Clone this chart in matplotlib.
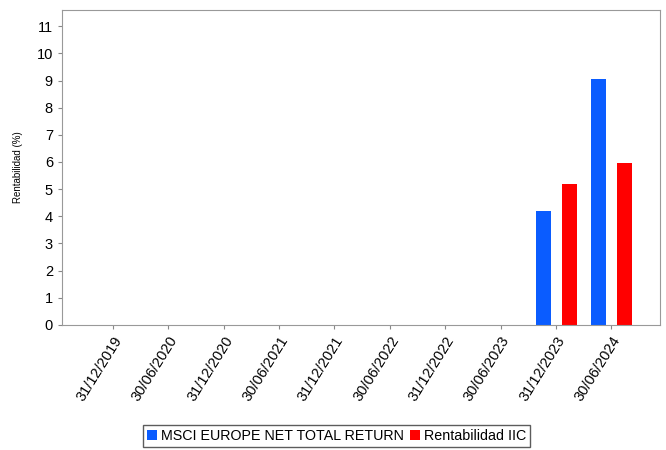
import numpy as np
import matplotlib
matplotlib.use("Agg")
import matplotlib.pyplot as plt

# data
fechas = ["31/12/2019", "30/06/2020", "31/12/2020", "30/06/2021", "31/12/2021",
          "30/06/2022", "31/12/2022", "30/06/2023", "31/12/2023", "30/06/2024"]
msci = [np.nan] * 8 + [4.2, 9.05]
iic = [np.nan] * 8 + [5.2, 5.95]

plt.rcParams['font.family'] = ['Liberation Sans', 'DejaVu Sans']

fig = plt.figure(figsize=(6.66, 4.5), dpi=100)
ax = fig.add_axes([0.093, 0.278, 0.898, 0.70])

x = np.arange(len(fechas))
w = 0.27
b1 = ax.bar(x - 0.23, msci, w, color='#0a5cff', label='MSCI EUROPE NET TOTAL RETURN')
b2 = ax.bar(x + 0.24, iic, w, color='#ff0000', label='Rentabilidad IIC')

ax.set_xlim(-0.92, 9.88)
ax.set_ylim(0, 11.6)
ax.set_yticks(range(0, 12))
ax.set_xticks(x)
ax.set_xticklabels(fechas, rotation=58, ha='right', rotation_mode='anchor', fontsize=10.5)
ax.tick_params(axis='y', labelsize=10.5, length=3, color='#888888')
ax.tick_params(axis='x', length=3, color='#888888')
ax.set_ylabel('Rentabilidad (%)', fontsize=7, labelpad=10)
for s in ax.spines.values():
    s.set_color('#999999')

fig.legend(handles=[b1, b2], loc='center', bbox_to_anchor=(0.505, 0.031), ncol=2,
           fontsize=10.3, frameon=True, fancybox=False, edgecolor='#333333',
           handlelength=0.7, handleheight=0.7, handletextpad=0.3, columnspacing=0.4,
           borderpad=0.25)

fig.savefig('out.png', dpi=100)
